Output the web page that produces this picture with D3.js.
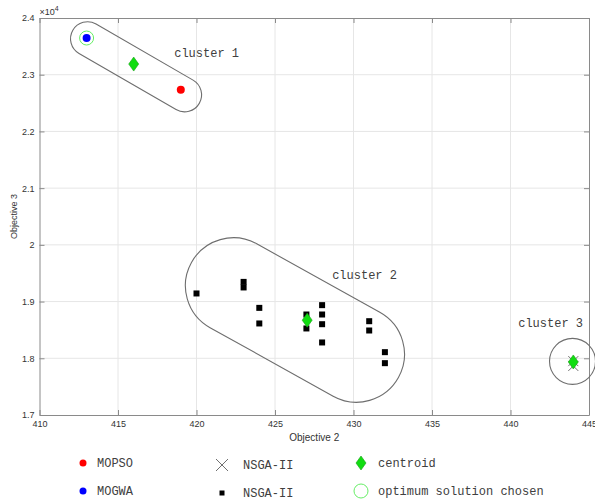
<!DOCTYPE html>
<html>
  <head>
    <meta charset="utf-8" />
    <title>Clusters - Objective 2 vs Objective 3</title>
    <style>
      html,
      body {
        margin: 0;
        padding: 0;
        background-color: white;
      }

      svg {
        display: block;
      }

      .axis text {
        font-family: "Liberation Sans", Arial, sans-serif;
        font-size: 9px;
        fill: #333;
      }

      .axis path,
      .axis line {
        stroke: #8a8a8a;
      }

      .grid line {
        stroke: #e6e6e6;
        stroke-width: 1px;
      }

      .mono {
        font-family: "Liberation Mono", "Courier New", monospace;
        font-size: 12px;
        fill: #404040;
      }
    </style>
  </head>

  <body>
    <script src="https://d3js.org/d3.v7.min.js"></script>
    <script>
      var w = 595;
      var h = 502;

      // tick values
      var obj2Ticks = [410, 415, 420, 425, 430, 435, 440, 445];
      var obj3Ticks = [17000, 18000, 19000, 20000, 21000, 22000, 23000, 24000];

      // points [objective 2, objective 3]
      var mopso = [[419, 22735]];
      var mogwa = [[413, 23647]];
      var nsgaCross = [[444, 17950], [444, 17865]];
      var nsgaSquare = [
        [420, 19143], [423, 19347], [423, 19249], [424, 18889], [424, 18614],
        [427, 18772], [427, 18526], [428, 18937], [428, 18772], [428, 18601],
        [428, 18279], [431, 18654], [431, 18490], [432, 18108], [432, 17914]
      ];
      var centroids = [[416, 23188], [427.05, 18672], [444, 17935]];
      var optimum = [[413, 23647]];

      // cluster outlines: two end centres in data units (same point = circle)
      var clusterNames = ["cluster 1", "cluster 2", "cluster 3"];
      var clusterEnds = [
        [[413.06, 23634], [419.24, 22645]],
        [[422.35, 19279], [430.19, 18072]],
        [[443.95, 17946], [443.95, 17946]]
      ];
      var clusterLabelAt = [[418.58, 23310], [428.64, 19395], [440.49, 18549]];

      var legendNames = ["MOPSO", "MOGWA", "NSGA-II", "NSGA-II", "centroid", "optimum solution chosen"];

      // plot box (window.top is read-only, so no plain "top")
      var plotL = 39.5, plotR = 589, plotT = 18, plotB = 415;

      var svg = d3
        .select("body")
        .append("svg")
        .attr("width", w)
        .attr("height", h);

      var x = d3.scaleLinear().domain([410, 445]).range([plotL, plotR]);
      var y = d3.scaleLinear().domain([17000, 24000]).range([plotB, plotT]);

      // grid
      svg.append("g")
        .attr("class", "grid")
        .selectAll("line")
        .data(obj2Ticks.slice(1, -1))
        .enter()
        .append("line")
        .attr("x1", function (d) { return x(d); })
        .attr("x2", function (d) { return x(d); })
        .attr("y1", plotT)
        .attr("y2", plotB);

      svg.append("g")
        .attr("class", "grid")
        .selectAll("line")
        .data(obj3Ticks.slice(1, -1))
        .enter()
        .append("line")
        .attr("x1", plotL)
        .attr("x2", plotR)
        .attr("y1", function (d) { return y(d); })
        .attr("y2", function (d) { return y(d); });

      // axes, ticks pointing inward like matlab
      svg.append("g")
        .attr("class", "axis")
        .attr("transform", "translate(0," + plotB + ")")
        .call(d3.axisBottom(x).tickValues(obj2Ticks).tickSizeInner(-5).tickSizeOuter(0).tickPadding(6));

      svg.append("g")
        .attr("class", "axis")
        .attr("transform", "translate(0," + plotT + ")")
        .call(d3.axisTop(x).tickValues(obj2Ticks).tickSizeInner(-5).tickSizeOuter(0).tickFormat(""));

      svg.append("g")
        .attr("class", "axis")
        .attr("transform", "translate(" + plotL + ",0)")
        .call(d3.axisLeft(y).tickValues(obj3Ticks).tickSizeInner(-5).tickSizeOuter(0).tickPadding(5)
          .tickFormat(function (d) { return d / 10000; }));

      svg.append("g")
        .attr("class", "axis")
        .attr("transform", "translate(" + plotR + ",0)")
        .call(d3.axisRight(y).tickValues(obj3Ticks).tickSizeInner(-5).tickSizeOuter(0).tickFormat(""));

      // exponent
      var expo = svg.append("text")
        .attr("x", plotL)
        .attr("y", plotT - 3)
        .attr("font-family", "Liberation Sans, Arial, sans-serif")
        .attr("font-size", "9px")
        .attr("fill", "#333")
        .text("\u00d710");
      expo.append("tspan")
        .attr("dy", -4)
        .attr("font-size", "7px")
        .text("4");

      // axis titles
      svg.append("text")
        .attr("x", (plotL + plotR) / 2)
        .attr("y", 441)
        .attr("text-anchor", "middle")
        .attr("font-family", "Liberation Sans, Arial, sans-serif")
        .attr("font-size", "10px")
        .attr("fill", "#333")
        .text("Objective 2");

      svg.append("text")
        .attr("transform", "translate(17," + (plotT + plotB) / 2 + ") rotate(-90)")
        .attr("text-anchor", "middle")
        .attr("font-family", "Liberation Sans, Arial, sans-serif")
        .attr("font-size", "9px")
        .attr("fill", "#333")
        .text("Objective 3");

      // cluster outlines (stadium shapes)
      var radii = [17, 48, 23];

      function stadium(ends, r) {
        var x1 = x(ends[0][0]), y1 = y(ends[0][1]);
        var x2 = x(ends[1][0]), y2 = y(ends[1][1]);
        var dx = x2 - x1, dy = y2 - y1;
        var len = Math.sqrt(dx * dx + dy * dy);
        var ux = len > 0 ? dx / len : 1;
        var uy = len > 0 ? dy / len : 0;
        var nx = -uy * r, ny = ux * r;
        return "M" + (x1 + nx) + "," + (y1 + ny) +
          "L" + (x2 + nx) + "," + (y2 + ny) +
          "A" + r + "," + r + " 0 0 0 " + (x2 - nx) + "," + (y2 - ny) +
          "L" + (x1 - nx) + "," + (y1 - ny) +
          "A" + r + "," + r + " 0 0 0 " + (x1 + nx) + "," + (y1 + ny) + "Z";
      }

      svg.selectAll(".outline")
        .data(clusterEnds)
        .enter()
        .append("path")
        .attr("class", "outline")
        .attr("d", function (d, i) { return stadium(d, radii[i]); })
        .attr("fill", "none")
        .attr("stroke", "#6e6e6e")
        .attr("stroke-width", 1.1);

      svg.selectAll(".clabel")
        .data(clusterNames)
        .enter()
        .append("text")
        .attr("class", "clabel mono")
        .attr("x", function (d, i) { return x(clusterLabelAt[i][0]); })
        .attr("y", function (d, i) { return y(clusterLabelAt[i][1]); })
        .text(function (d) { return d; });

      // markers
      var diamond = "M0,-7L5,0L0,7L-5,0Z";

      function cross(s) {
        return "M" + (-s) + "," + (-s) + "L" + s + "," + s + "M" + (-s) + "," + s + "L" + s + "," + (-s);
      }

      svg.selectAll(".sq")
        .data(nsgaSquare)
        .enter()
        .append("rect")
        .attr("class", "sq")
        .attr("x", function (d) { return x(d[0]) - 3; })
        .attr("y", function (d) { return y(d[1]) - 3; })
        .attr("width", 6)
        .attr("height", 6)
        .attr("fill", "black");

      svg.selectAll(".cr")
        .data(nsgaCross)
        .enter()
        .append("path")
        .attr("class", "cr")
        .attr("transform", function (d) { return "translate(" + x(d[0]) + "," + y(d[1]) + ")"; })
        .attr("d", cross(5))
        .attr("stroke", "#707070")
        .attr("stroke-width", 1);

      svg.selectAll(".mopso")
        .data(mopso)
        .enter()
        .append("circle")
        .attr("class", "mopso")
        .attr("cx", function (d) { return x(d[0]); })
        .attr("cy", function (d) { return y(d[1]); })
        .attr("r", 4)
        .attr("fill", "#ff0000");

      svg.selectAll(".mogwa")
        .data(mogwa)
        .enter()
        .append("circle")
        .attr("class", "mogwa")
        .attr("cx", function (d) { return x(d[0]); })
        .attr("cy", function (d) { return y(d[1]); })
        .attr("r", 4)
        .attr("fill", "#0000ff");

      svg.selectAll(".opt")
        .data(optimum)
        .enter()
        .append("circle")
        .attr("class", "opt")
        .attr("cx", function (d) { return x(d[0]); })
        .attr("cy", function (d) { return y(d[1]); })
        .attr("r", 7)
        .attr("fill", "none")
        .attr("stroke", "#66ee66")
        .attr("stroke-width", 1);

      svg.selectAll(".cen")
        .data(centroids)
        .enter()
        .append("path")
        .attr("class", "cen")
        .attr("transform", function (d) { return "translate(" + x(d[0]) + "," + y(d[1]) + ")"; })
        .attr("d", diamond)
        .attr("fill", "#11dd11")
        .attr("stroke", "#19a019")
        .attr("stroke-width", 0.6);

      // legend, two rows under the plot
      var legX = [83, 222, 361];
      var legY = [463, 491];
      var legend = svg.append("g");

      legend.append("circle").attr("cx", legX[0]).attr("cy", legY[0]).attr("r", 3.5).attr("fill", "#ff0000");
      legend.append("circle").attr("cx", legX[0]).attr("cy", legY[1]).attr("r", 3.5).attr("fill", "#0000ff");
      legend.append("path").attr("transform", "translate(" + legX[1] + "," + (legY[0] + 2) + ")")
        .attr("d", cross(6)).attr("stroke", "#707070").attr("stroke-width", 1);
      legend.append("rect").attr("x", legX[1] - 2.5).attr("y", legY[1] - 0.5).attr("width", 5).attr("height", 5).attr("fill", "black");
      legend.append("path").attr("transform", "translate(" + legX[2] + "," + legY[0] + ")")
        .attr("d", diamond).attr("fill", "#11dd11").attr("stroke", "#19a019").attr("stroke-width", 0.6);
      legend.append("circle").attr("cx", legX[2]).attr("cy", legY[1]).attr("r", 7)
        .attr("fill", "none").attr("stroke", "#66ee66").attr("stroke-width", 1);

      var textX = [97, 243, 378];
      legend.selectAll("text")
        .data(legendNames)
        .enter()
        .append("text")
        .attr("class", "mono")
        .attr("x", function (d, i) { return textX[Math.floor(i / 2)]; })
        .attr("y", function (d, i) { return legY[i % 2] + 4 + (i < 4 && i >= 2 ? 2 : 0); })
        .text(function (d) { return d; });
    </script>
  </body>
</html>
